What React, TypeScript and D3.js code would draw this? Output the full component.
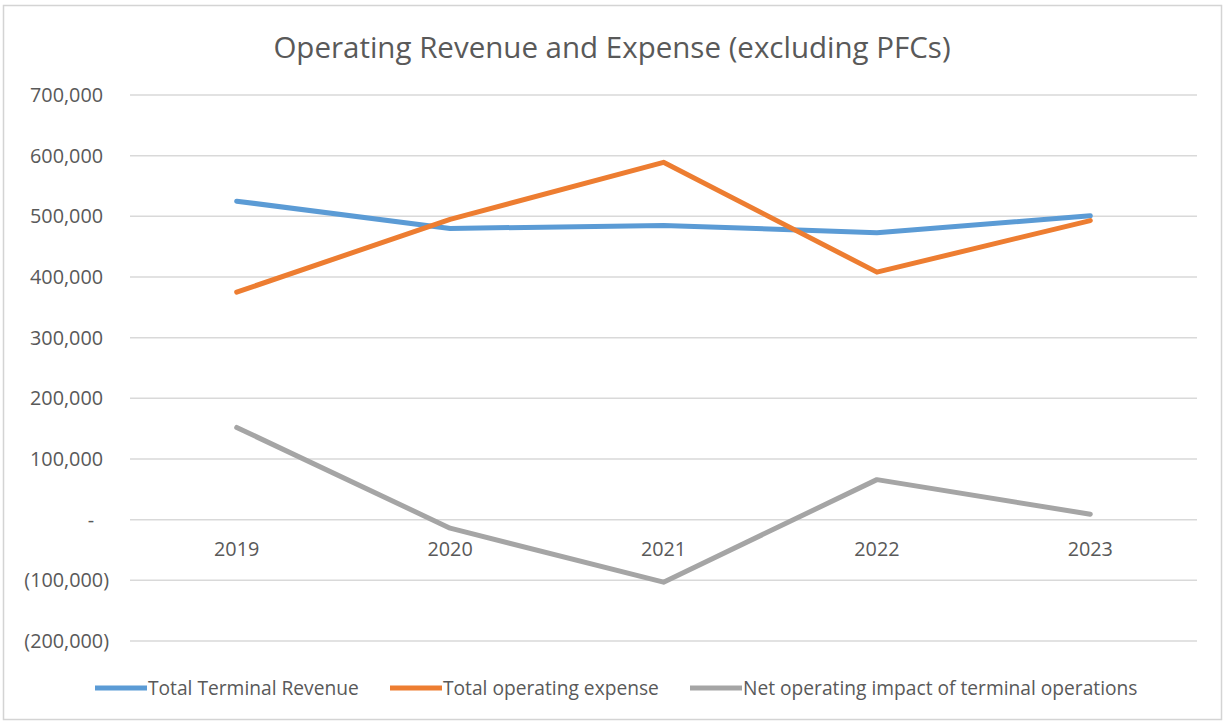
import React from "react";
import * as d3 from "d3";

const categories = ["2019", "2020", "2021", "2022", "2023"];
const revenue = [525000, 480000, 485000, 473000, 501000];
const expense = [375000, 495000, 589000, 408000, 493000];
const net = [152000, -14000, -103000, 66000, 9000];
const yTicks = [700000, 600000, 500000, 400000, 300000, 200000, 100000, 0, -100000, -200000];
const seriesNames = ["Total Terminal Revenue", "Total operating expense", "Net operating impact of terminal operations"];

const W = 1225, H = 723;
const colors = ["#5b9bd5", "#ed7d31", "#a5a5a5"];

function fmt(v: number) {
  if (v === 0) return "-";
  const s = d3.format(",")(Math.abs(v));
  return v < 0 ? `(${s})` : s;
}

export default function App() {
  const x = d3.scaleBand<string>().domain(categories).range([130, 1197]);
  const y = d3.scaleLinear().domain([-200000, 700000]).range([641, 95]);
  const line = d3.line<number>()
    .x((_, i) => (x(categories[i]) as number) + x.bandwidth() / 2)
    .y((d) => y(d));
  const series = [revenue, expense, net];
  const legendX = [95, 390, 690];
  const font = "'Open Sans', sans-serif";
  const labelX = (t: number) => (t < 0 ? 109 : t === 0 ? 94 : 103);
  return (
    <svg width={W} height={H} style={{ position: "absolute", left: 0, top: 0, background: "#fff" }}>
      <rect x={3.5} y={5.5} width={1218} height={714} fill="#fff" stroke="#d4d4d4" strokeWidth={1.5} />
      <text x={612} y={58} textAnchor="middle" fontFamily={font} fontSize={29.5} fill="#595959">
        Operating Revenue and Expense (excluding PFCs)
      </text>
      {yTicks.map((t) => (
        <g key={t}>
          <line x1={130} x2={1197} y1={y(t)} y2={y(t)} stroke="#d9d9d9" strokeWidth={1.5} />
          <text x={labelX(t)} y={y(t)} dy="0.35em" textAnchor="end" fontFamily={font} fontSize={19.8} fill="#595959">
            {fmt(t)}
          </text>
        </g>
      ))}
      {categories.map((c) => (
        <text key={c} x={(x(c) as number) + x.bandwidth() / 2} y={y(0) + 29} dy="0.35em" textAnchor="middle"
          fontFamily={font} fontSize={19.8} fill="#595959">
          {c}
        </text>
      ))}
      {series.map((s, i) => (
        <path key={i} d={line(s) as string} fill="none" stroke={colors[i]} strokeWidth={5} strokeLinejoin="round" strokeLinecap="round" />
      ))}
      {seriesNames.map((n, i) => (
        <g key={n}>
          <line x1={legendX[i]} x2={legendX[i] + 52} y1={688} y2={688} stroke={colors[i]} strokeWidth={5} />
          <text x={legendX[i] + 53} y={688} dy="0.35em" fontFamily={font} fontSize={19.2} fill="#595959">
            {n}
          </text>
        </g>
      ))}
    </svg>
  );
}
